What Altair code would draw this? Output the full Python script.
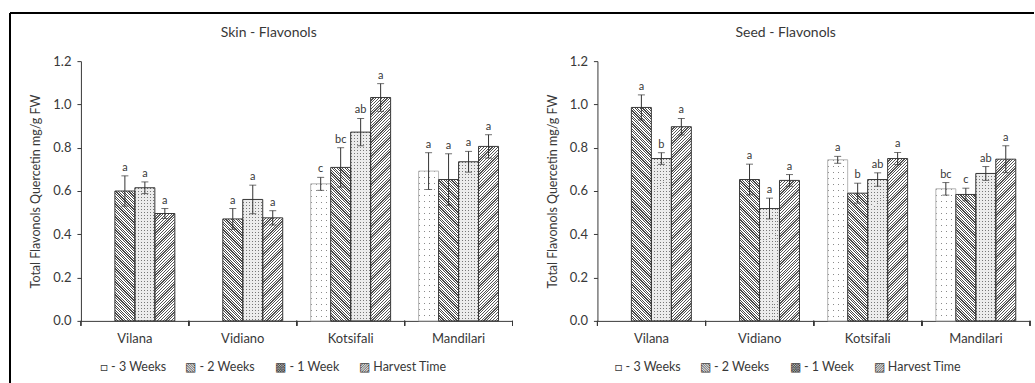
import altair as alt

cultivars = ["Vilana", "Vidiano", "Kotsifali", "Mandilari"]
series = ["3 Weeks", "2 Weeks", "1 Week", "Harvest Time"]
legend_labels = ["□ - 3 Weeks", "▧ - 2 Weeks", "▩ - 1 Week", "▨ Harvest Time"]

# Skin - Flavonols (mg/g FW), order per cultivar list
skin_3w = [None, None, 0.633, 0.692]
skin_2w = [0.600, 0.471, 0.709, 0.653]
skin_1w = [0.615, 0.561, 0.872, 0.735]
skin_ht = [0.496, 0.476, 1.032, 0.806]
skin_err_3w = [None, None, 0.030, 0.085]
skin_err_2w = [0.070, 0.048, 0.091, 0.119]
skin_err_1w = [0.027, 0.066, 0.063, 0.048]
skin_err_ht = [0.023, 0.033, 0.064, 0.054]
skin_let_3w = [None, None, "c", "a"]
skin_let_2w = ["a", "a", "bc", "a"]
skin_let_1w = ["a", "a", "ab", "a"]
skin_let_ht = ["a", "a", "a", "a"]

# Seed - Flavonols
seed_3w = [None, None, 0.744, 0.610]
seed_2w = [0.986, 0.653, 0.590, 0.584]
seed_1w = [0.750, 0.519, 0.653, 0.681]
seed_ht = [0.897, 0.649, 0.750, 0.747]
seed_err_3w = [None, None, 0.016, 0.029]
seed_err_2w = [0.058, 0.071, 0.046, 0.029]
seed_err_1w = [0.027, 0.048, 0.031, 0.032]
seed_err_ht = [0.038, 0.027, 0.028, 0.062]
seed_let_3w = [None, None, "a", "bc"]
seed_let_2w = ["a", "a", "b", "c"]
seed_let_1w = ["b", "a", "ab", "ab"]
seed_let_ht = ["a", "a", "a", "a"]

# ---- layout / style constants ----
PLOT_W_L = 432
PLOT_W_R = 433
PLOT_H = 260
YMAX = 1.2
BAR_W = 20
TXT = "#383838"
FONT = "Lato"
CLEAR = "rgba(255,255,255,0)"


def band_stops(total, period, on, c_on, c_off):
    stops = []
    k = 0
    while k * period < total:
        a = round(k * period / total, 5)
        b = round(min((k * period + on) / total, 1), 5)
        c = round(min((k + 1) * period / total, 1), 5)
        stops += [{"offset": a, "color": c_on}, {"offset": b, "color": c_on},
                  {"offset": b, "color": c_off}, {"offset": c, "color": c_off}]
        k += 1
    return stops


def diag(w, h, kind, period, on, dark, light):
    a = (w + h) / (w * w + h * h)
    if kind == "back":
        g = {"gradient": "linear", "x1": 0, "y1": 1, "x2": a * w, "y2": 1 - a * h}
    else:
        g = {"gradient": "linear", "x1": 0, "y1": 0, "x2": a * w, "y2": a * h}
    g["stops"] = band_stops(w + h, period, on, dark, light)
    return g


def vstripes(w, period, gap, color):
    return {"gradient": "linear", "x1": 0, "y1": 0, "x2": 1, "y2": 0.0001,
            "stops": band_stops(w, period, gap, CLEAR, color)}


def hstripes(h, period, gap, color):
    return {"gradient": "linear", "x1": 0, "y1": 0, "x2": 0.0001, "y2": 1,
            "stops": band_stops(h, period, gap, CLEAR, color)}


def fills(s, w, h):
    if s == "3 Weeks":
        return "#8a8a8a", vstripes(w, 5, 1.1, "#ffffff"), hstripes(h, 6, 1.1, "#ffffff")
    if s == "1 Week":
        return "#777777", vstripes(w, 3, 1.0, "#ececec"), hstripes(h, 3, 1.0, "#ececec")
    if s == "2 Weeks":
        return diag(w, h, "back", 2.6, 1.2, "#4a4a4a", "#ffffff"), CLEAR, CLEAR
    return diag(w, h, "fwd", 2.8, 1.2, "#555555", "#ffffff"), CLEAR, CLEAR


label_expr = " : ".join(
    f"datum.label == '{s}' ? '{l}'" for s, l in zip(series, legend_labels)
) + " : datum.label"


def panel(title, vals, errs, lets, plot_w, legend_x, side):
    recs = []
    for si, s in enumerate(series):
        for ci, c in enumerate(cultivars):
            m = vals[si][ci]
            if m is None:
                continue
            e = errs[si][ci]
            h = m / YMAX * PLOT_H
            g1, g2, g3 = fills(s, BAR_W, h)
            recs.append({"cultivar": c, "series": s, "mean": m, "lo": m - e,
                         "hi": m + e, "letter": lets[si][ci],
                         "g1": g1, "g2": g2, "g3": g3})
    base = alt.Chart(alt.Data(values=recs))
    xscale = alt.Scale(domain=cultivars, paddingInner=0, paddingOuter=0)
    xaxis = alt.Axis(title=None, ticks=False, labelAngle=0, labelPadding=12,
                     labelFontSize=13, domainColor=TXT)
    x = alt.X("cultivar:N", scale=xscale, axis=xaxis)
    xo = alt.XOffset("series:N", scale=alt.Scale(domain=series, paddingInner=0, paddingOuter=0.7))
    yscale = alt.Scale(domain=[0, YMAX], nice=False)
    yaxis = alt.Axis(title="Total Flavonols Quercetin mg/g FW", values=[0, 0.2, 0.4, 0.6, 0.8, 1.0, 1.2],
                     format=".1f", tickSize=4, labelPadding=6, labelFontSize=13,
                     titleFontSize=12.5, titleFontWeight="normal", titlePadding=10)
    y = alt.Y("mean:Q", stack=None, scale=yscale, axis=yaxis)

    layers = []
    for g in ["g1", "g2", "g3"]:
        layers.append(base.mark_bar(strokeWidth=0).encode(
            x=x, xOffset=xo, y=y, fill=alt.Fill(f"{g}:N", scale=None)))
    layers.append(base.mark_bar(fillOpacity=0, strokeWidth=1).encode(
        x=x, xOffset=xo, y=y,
        stroke=alt.Stroke("series:N",
                          scale=alt.Scale(domain=series, range=["#b8b8b8", TXT, TXT, TXT]),
                          legend=alt.Legend(orient="none", legendX=legend_x, legendY=300,
                                            direction="horizontal", title=None,
                                            symbolOpacity=0, symbolSize=1, symbolStrokeWidth=0,
                                            labelOffset=0, columnPadding=6,
                                            labelFontSize=12.5, labelColor=TXT,
                                            labelExpr=label_expr))))
    layers.append(base.mark_rule(color="#333333", strokeWidth=1).encode(
        x=x, xOffset=xo, y=alt.Y("lo:Q", scale=yscale, axis=yaxis), y2="hi:Q"))
    for f in ["lo", "hi"]:
        layers.append(base.mark_tick(color="#333333", size=7, thickness=1).encode(
            x=x, xOffset=xo, y=alt.Y(f"{f}:Q", scale=yscale, axis=yaxis)))
    layers.append(base.mark_text(dy=-8, fontSize=11, color=TXT, font=FONT).encode(
        x=x, xOffset=xo, y=alt.Y("hi:Q", scale=yscale, axis=yaxis), text="letter:N"))
    for bp in [0, 1]:
        layers.append(base.mark_rule(color=TXT, strokeWidth=1).encode(
            x=alt.X("cultivar:N", scale=xscale, axis=xaxis, bandPosition=bp),
            y=alt.value(PLOT_H), y2=alt.value(PLOT_H + 5)))
    if side == "left":
        layers.append(base.mark_rule(color="#000000", strokeWidth=1.2).encode(
            x=alt.value(-71), x2=alt.value(plot_w + 10), y=alt.value(-48)))
        layers.append(base.mark_rule(color="#000000", strokeWidth=1.2).encode(
            x=alt.value(-71), y=alt.value(-48), y2=alt.value(322)))
    else:
        layers.append(base.mark_rule(color="#000000", strokeWidth=1.2).encode(
            x=alt.value(-85), x2=alt.value(plot_w + 4), y=alt.value(-48)))
    return alt.layer(*layers).properties(
        width=plot_w, height=PLOT_H,
        title=alt.TitleParams(title, fontSize=14, fontWeight="normal", color=TXT, font=FONT,
                              frame="group", anchor="middle", dx=-28, offset=-27))


left = panel("Skin - Flavonols",
             [skin_3w, skin_2w, skin_1w, skin_ht],
             [skin_err_3w, skin_err_2w, skin_err_1w, skin_err_ht],
             [skin_let_3w, skin_let_2w, skin_let_1w, skin_let_ht],
             PLOT_W_L, 7, "left")
right = panel("Seed - Flavonols",
              [seed_3w, seed_2w, seed_1w, seed_ht],
              [seed_err_3w, seed_err_2w, seed_err_1w, seed_err_ht],
              [seed_let_3w, seed_let_2w, seed_let_1w, seed_let_ht],
              PLOT_W_R, 5, "right")

chart = alt.hconcat(left, right, spacing=85, bounds="flush").resolve_legend(
    stroke="independent"
).properties(
    padding={"left": 9, "top": 12, "right": 0, "bottom": 0},
    background="#ffffff",
).configure_view(strokeWidth=0).configure_axis(
    labelFont=FONT, titleFont=FONT, labelColor=TXT, titleColor=TXT,
    domainColor=TXT, tickColor=TXT, grid=False
).configure_legend(labelFont=FONT)

chart.save("out.html", embed_options={"renderer": "svg", "actions": False})
